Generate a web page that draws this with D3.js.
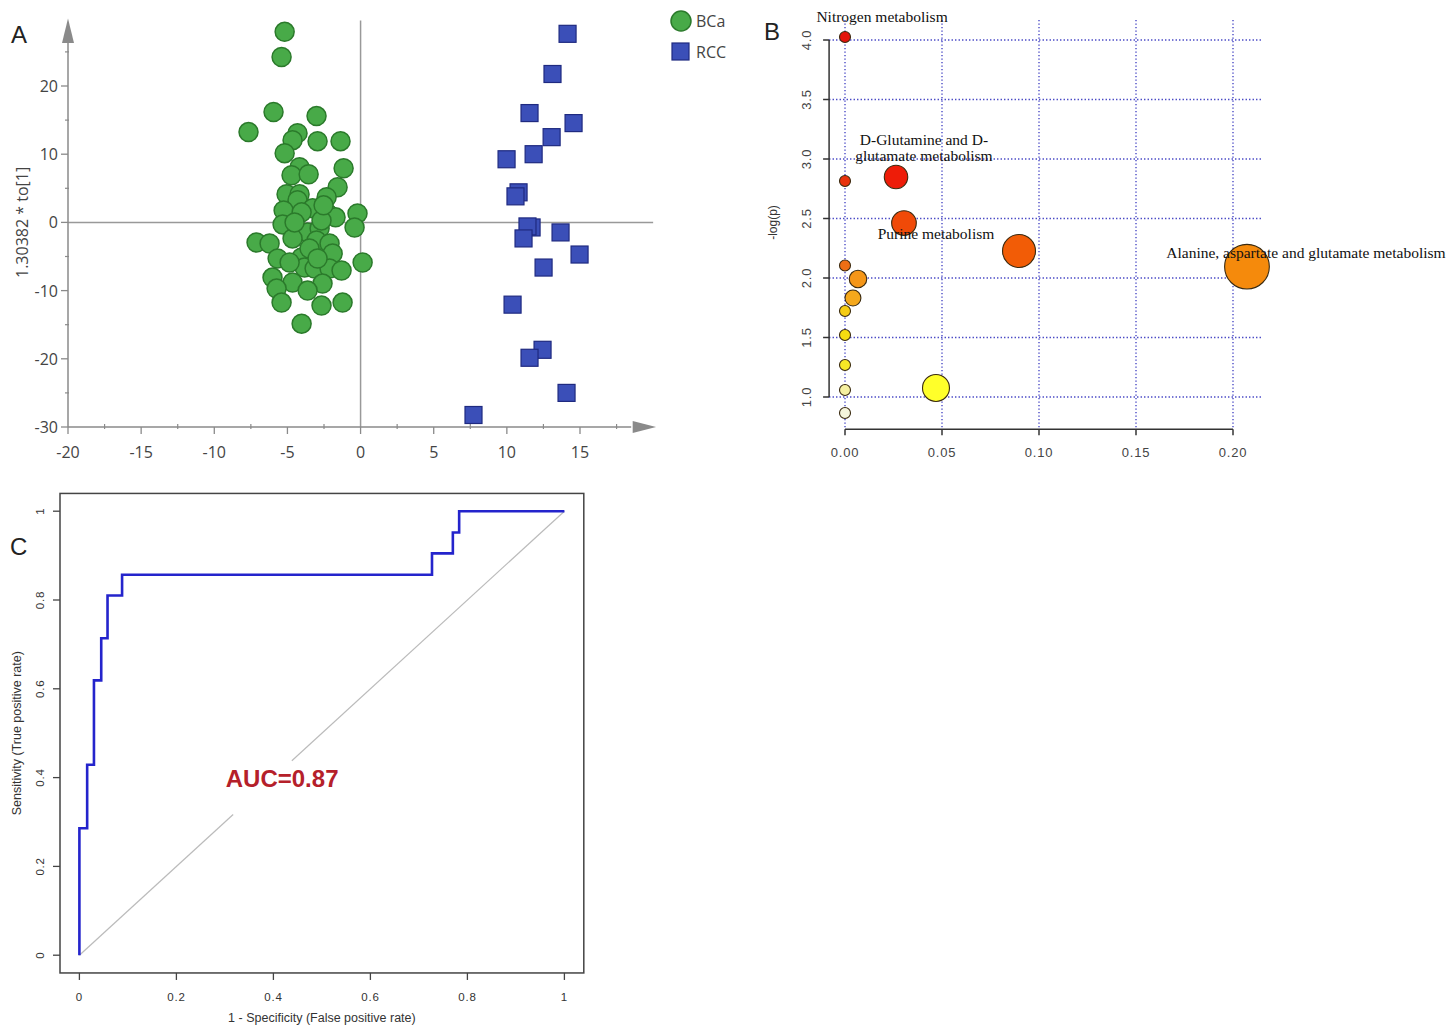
<!DOCTYPE html>
<html lang="en">
<head>
<meta charset="UTF-8">
<script src="https://d3js.org/d3.v7.min.js"></script>
<style>
  body { margin: 0; background: #fff; }
  svg { display: block; }
</style>
</head>
<body>
<div id="chart"></div>
<script>
// ---------- A: score plot ----------
const groups = ["BCa", "RCC"];
const bcaX = [-5.19,-5.40,-5.95,-7.66,-3.01,-4.31,-4.65,-2.94,-1.37,-5.19,-1.16,-4.17,-4.72,-3.55,-1.57,-5.06,-4.17,-2.32,-4.31,-5.26,-3.28,-2.26,-4.03,-1.71,-0.21,-0.41,-5.33,-3.62,-4.65,-7.11,-6.22,-2.80,-3.01,-2.12,-5.67,-4.03,-1.91,0.14,-3.83,-3.14,-2.12,-1.30,-6.02,-4.65,-2.60,-5.74,-3.62,-5.40,-2.67,-1.23,-4.03,-4.51,-2.67,-3.49,-4.85,-2.94,-2.53];
const bcaY = [27.94,24.26,16.18,13.24,15.59,13.09,12.06,11.91,11.91,10.15,7.94,8.09,6.91,7.06,5.15,4.12,4.12,3.68,3.24,1.76,2.06,1.32,1.47,0.74,1.32,-0.74,-0.29,-1.47,-2.35,-2.94,-3.09,-0.88,-2.65,-3.09,-5.29,-5.15,-4.56,-5.88,-6.62,-6.76,-6.76,-7.06,-8.09,-8.82,-8.97,-9.71,-10.0,-11.76,-12.2,-11.76,-14.85,0.0,0.29,-3.82,-5.88,-5.29,2.5];
const rccX = [14.15,13.12,11.55,14.56,13.06,11.83,9.98,10.80,10.59,11.69,11.41,13.67,11.14,14.97,12.51,10.39,12.44,11.55,14.08,7.72];
const rccY = [27.65,21.76,16.03,14.56,12.5,10.0,9.26,4.41,3.82,-0.74,-0.59,-1.47,-2.35,-4.71,-6.62,-12.06,-18.68,-19.85,-25.0,-28.24];
const aTicksX = [-20,-15,-10,-5,0,5,10,15];
const aMinorX = [-17.5,-12.5,-7.5,-2.5,2.5,7.5,12.5,17.5];
const aTicksY = [-30,-20,-10,0,10,20];
const aMinorY = [-25,-15,-5,5,15,25];

// ---------- B: pathway analysis ----------
const impact = [0, 0, 0.0263, 0.0304, 0.0897, 0.2072, 0, 0.0067, 0.0041, 0, 0, 0, 0, 0.0469, 0];
const logP   = [4.025, 2.815, 2.849, 2.462, 2.227, 2.095, 2.105, 1.992, 1.832, 1.723, 1.521, 1.269, 1.059, 1.076, 0.866];
const pathLabels = [["Nitrogen metabolism"], ["D-Glutamine and D-", "glutamate metabolism"], ["Purine metabolism"], ["Alanine, aspartate and glutamate metabolism"]];
const labelX = [0.0191, 0.0407, 0.0469, 0.2376];
const labelY = [4.151, 3.118, 2.328, 2.168];
const bTicksX = [0, 0.05, 0.10, 0.15, 0.20];
const bTicksY = [1.0, 1.5, 2.0, 2.5, 3.0, 3.5, 4.0];

// ---------- C: ROC ----------
const fpr = [0, 0.016, 0.030, 0.045, 0.058, 0.088, 0.727, 0.770, 0.783, 1.0];
const tpr = [0, 0.286, 0.429, 0.619, 0.714, 0.810, 0.857, 0.905, 0.952, 1.0];
const aucValue = 0.87;
const diagFrom = [0, 0.438];
const diagTo = [0.317, 1];
const cTicks = [0, 0.2, 0.4, 0.6, 0.8, 1];

const W = 1449, H = 1026;
const svg = d3.select("#chart").append("svg")
  .attr("width", W).attr("height", H)
  .style("background", "#fff");

const sans = "'Open Sans', 'Noto Sans', sans-serif";
const arial = "'Liberation Sans', Arial, sans-serif";
const serif = "'Liberation Serif', 'Times New Roman', serif";

// ================= Panel A =================
const xA = d3.scaleLinear().domain([-20, 15]).range([68, 580]);
const yA = d3.scaleLinear().domain([-30, 20]).range([427, 86]);
const gA = svg.append("g");
const axisCol = "#8a8a8a";

// zero lines
gA.append("line").attr("x1", xA(0)).attr("x2", xA(0)).attr("y1", yA(29.6)).attr("y2", yA(-30))
  .attr("stroke", "#999").attr("stroke-width", 1.5);
gA.append("line").attr("x1", xA(-20)).attr("x2", xA(20)).attr("y1", yA(0)).attr("y2", yA(0))
  .attr("stroke", "#999").attr("stroke-width", 1.5);

// axes with arrows
gA.append("line").attr("x1", xA(-20)).attr("x2", xA(-20)).attr("y1", yA(-30)).attr("y2", yA(26.5))
  .attr("stroke", axisCol).attr("stroke-width", 1.5);
gA.append("line").attr("x1", xA(-20)).attr("x2", xA(18.5)).attr("y1", yA(-30)).attr("y2", yA(-30))
  .attr("stroke", axisCol).attr("stroke-width", 1.5);
gA.append("path")
  .attr("d", `M${xA(-20)},${yA(29.9)} L${xA(-20) - 6},${yA(26.3)} L${xA(-20) + 6},${yA(26.3)} Z`)
  .attr("fill", axisCol);
gA.append("path")
  .attr("d", `M${xA(20.2)},${yA(-30)} L${xA(18.6)},${yA(-30) - 6} L${xA(18.6)},${yA(-30) + 6} Z`)
  .attr("fill", axisCol);

aTicksY.forEach(v => {
  gA.append("line").attr("x1", xA(-20) - 7).attr("x2", xA(-20)).attr("y1", yA(v)).attr("y2", yA(v))
    .attr("stroke", axisCol).attr("stroke-width", 1.3);
  gA.append("text").attr("x", xA(-20) - 10).attr("y", yA(v) + 6)
    .attr("text-anchor", "end").attr("font-family", sans).attr("font-size", 16).attr("fill", "#444")
    .text(v);
});
aMinorY.forEach(v => {
  gA.append("line").attr("x1", xA(-20) - 3).attr("x2", xA(-20) + 1).attr("y1", yA(v)).attr("y2", yA(v))
    .attr("stroke", axisCol).attr("stroke-width", 1.2);
});
aTicksX.forEach(v => {
  gA.append("line").attr("x1", xA(v)).attr("x2", xA(v)).attr("y1", yA(-30)).attr("y2", yA(-30) + 7)
    .attr("stroke", axisCol).attr("stroke-width", 1.3);
  gA.append("text").attr("x", xA(v)).attr("y", yA(-30) + 31)
    .attr("text-anchor", "middle").attr("font-family", sans).attr("font-size", 16).attr("fill", "#444")
    .text(v);
});
aMinorX.forEach(v => {
  gA.append("line").attr("x1", xA(v)).attr("x2", xA(v)).attr("y1", yA(-30) - 3).attr("y2", yA(-30) + 2)
    .attr("stroke", axisCol).attr("stroke-width", 1.2);
});

gA.append("text")
  .attr("transform", `translate(28,${yA(0)}) rotate(-90)`)
  .attr("text-anchor", "middle").attr("font-family", sans).attr("font-size", 16).attr("fill", "#444")
  .text("1.30382 * to[1]");

const bca = d3.zip(bcaX, bcaY);
const rcc = d3.zip(rccX, rccY);
const green = "#48aa48", greenStroke = "#2b7a2b";
const blue = "#3b4fb8", blueStroke = "#1f2a80";

gA.selectAll(".bca").data(bca).join("circle")
  .attr("cx", d => xA(d[0])).attr("cy", d => yA(d[1])).attr("r", 9.5)
  .attr("fill", green).attr("stroke", greenStroke).attr("stroke-width", 1.5);
gA.selectAll(".rcc").data(rcc).join("rect")
  .attr("x", d => xA(d[0]) - 8.5).attr("y", d => yA(d[1]) - 8.5)
  .attr("width", 17).attr("height", 17)
  .attr("fill", blue).attr("stroke", blueStroke).attr("stroke-width", 1.2);

// legend
const leg = svg.append("g");
leg.append("circle").attr("cx", 681).attr("cy", 21).attr("r", 10)
  .attr("fill", green).attr("stroke", greenStroke).attr("stroke-width", 1.5);
leg.append("rect").attr("x", 672).attr("y", 43).attr("width", 17).attr("height", 17)
  .attr("fill", blue).attr("stroke", blueStroke).attr("stroke-width", 1.2);
leg.selectAll("text").data(groups).join("text")
  .attr("x", 696).attr("y", (d, i) => 27 + i * 31)
  .attr("font-family", sans).attr("font-size", 16).attr("fill", "#444")
  .text(d => d);

svg.append("text").attr("x", 11).attr("y", 43).attr("font-family", arial).attr("font-size", 24)
  .attr("fill", "#222").text("A");

// ================= Panel B =================
const xB = d3.scaleLinear().domain([0, 0.2]).range([845, 1233]);
const yB = d3.scaleLinear().domain([1, 4]).range([397, 40]);
const rB = d3.scaleLinear().domain([0, 0.005, 0.03, 0.09, 0.21]).range([5.5, 8.5, 12.3, 16.5, 22.5]);
const heat = ["#e3140c", "#ee1c08", "#e8320e", "#f04a08", "#f25c06", "#ee6e14", "#f58a0c", "#f59618",
              "#f5a81c", "#f5cc14", "#f6dc10", "#f6e826", "#ffff2a", "#f5f0a0", "#f5f5dc"];
const gB = svg.append("g");
const bLeft = xB(-0.0082), bRight = xB(0.2155), bTop = yB(4.168), bBottom = yB(0.73);
const gridCol = "#3a3ac0";

bTicksY.forEach(v => {
  gB.append("line").attr("x1", bLeft).attr("x2", bRight).attr("y1", yB(v)).attr("y2", yB(v))
    .attr("stroke", gridCol).attr("stroke-width", 1.3).attr("stroke-dasharray", "1.3,2.2");
});
bTicksX.forEach(v => {
  gB.append("line").attr("x1", xB(v)).attr("x2", xB(v)).attr("y1", bTop).attr("y2", bBottom)
    .attr("stroke", gridCol).attr("stroke-width", 1.3).attr("stroke-dasharray", "1.3,2.2");
});

// axes
gB.append("line").attr("x1", bLeft).attr("x2", bLeft).attr("y1", yB(4)).attr("y2", yB(1))
  .attr("stroke", "#333").attr("stroke-width", 1.5);
gB.append("line").attr("x1", xB(0)).attr("x2", xB(0.2)).attr("y1", bBottom).attr("y2", bBottom)
  .attr("stroke", "#333").attr("stroke-width", 1.5);
bTicksY.forEach(v => {
  gB.append("line").attr("x1", bLeft - 6).attr("x2", bLeft).attr("y1", yB(v)).attr("y2", yB(v))
    .attr("stroke", "#333").attr("stroke-width", 1.5);
  gB.append("text").attr("transform", `translate(${bLeft - 18},${yB(v)}) rotate(-90)`)
    .attr("text-anchor", "middle").attr("font-family", arial).attr("font-size", 13).attr("fill", "#444")
    .attr("letter-spacing", 0.8).text(v.toFixed(1));
});
bTicksX.forEach(v => {
  gB.append("line").attr("x1", xB(v)).attr("x2", xB(v)).attr("y1", bBottom).attr("y2", bBottom + 6)
    .attr("stroke", "#333").attr("stroke-width", 1.5);
  gB.append("text").attr("x", xB(v)).attr("y", bBottom + 28)
    .attr("text-anchor", "middle").attr("font-family", arial).attr("font-size", 13).attr("fill", "#444")
    .attr("letter-spacing", 0.8).text(v.toFixed(2));
});
gB.append("text").attr("transform", `translate(777,${yB(2.5) + 4}) rotate(-90)`)
  .attr("text-anchor", "middle").attr("font-family", arial).attr("font-size", 12).attr("fill", "#333")
  .text("-log(p)");

// bubbles, coloured by rank of -log(p)
const rank = d3.range(logP.length).sort((a, b) => logP[b] - logP[a]);
const colourOf = [];
rank.forEach((idx, r) => { colourOf[idx] = heat[r]; });
gB.selectAll(".pw").data(d3.range(impact.length)).join("circle")
  .attr("cx", i => xB(impact[i])).attr("cy", i => yB(logP[i])).attr("r", i => rB(impact[i]))
  .attr("fill", i => colourOf[i]).attr("stroke", "#3a2a10").attr("stroke-width", 1.1);

pathLabels.forEach((lines, k) => {
  lines.forEach((t, j) => {
    gB.append("text").attr("x", xB(labelX[k])).attr("y", yB(labelY[k]) + j * 16)
      .attr("text-anchor", "middle").attr("font-family", serif).attr("font-size", 15.5).attr("fill", "#111")
      .text(t);
  });
});

svg.append("text").attr("x", 764).attr("y", 40).attr("font-family", arial).attr("font-size", 24)
  .attr("fill", "#222").text("B");

// ================= Panel C =================
const xC = d3.scaleLinear().domain([0, 1]).range([79.4, 564.4]);
const yC = d3.scaleLinear().domain([0, 1]).range([955.2, 511.2]);
const gC = svg.append("g");
gC.append("rect").attr("x", xC(-0.04)).attr("y", yC(1.04))
  .attr("width", xC(1.04) - xC(-0.04)).attr("height", yC(-0.04) - yC(1.04))
  .attr("fill", "none").attr("stroke", "#444").attr("stroke-width", 1.5);

cTicks.forEach(v => {
  gC.append("line").attr("x1", xC(v)).attr("x2", xC(v)).attr("y1", yC(-0.04)).attr("y2", yC(-0.04) + 7)
    .attr("stroke", "#444").attr("stroke-width", 1.3);
  gC.append("text").attr("x", xC(v)).attr("y", yC(-0.04) + 28)
    .attr("text-anchor", "middle").attr("font-family", arial).attr("font-size", 11.5).attr("fill", "#333")
    .attr("letter-spacing", 0.8).text(v);
  gC.append("line").attr("x1", xC(-0.04) - 7).attr("x2", xC(-0.04)).attr("y1", yC(v)).attr("y2", yC(v))
    .attr("stroke", "#444").attr("stroke-width", 1.3);
  gC.append("text").attr("transform", `translate(${xC(-0.04) - 16},${yC(v)}) rotate(-90)`)
    .attr("text-anchor", "middle").attr("font-family", arial).attr("font-size", 11.5).attr("fill", "#333")
    .attr("letter-spacing", 0.8).text(v);
});
gC.append("text").attr("x", (xC(-0.04) + xC(1.04)) / 2).attr("y", 1022)
  .attr("text-anchor", "middle").attr("font-family", arial).attr("font-size", 12.5).attr("fill", "#333")
  .text("1 - Specificity (False positive rate)");
gC.append("text").attr("transform", `translate(21,${(yC(-0.04) + yC(1.04)) / 2}) rotate(-90)`)
  .attr("text-anchor", "middle").attr("font-family", arial).attr("font-size", 12.5).attr("fill", "#333")
  .text("Sensitivity (True positive rate)");

// chance diagonal (broken around the AUC text)
diagFrom.forEach((a, i) => {
  gC.append("line").attr("x1", xC(a)).attr("y1", yC(a)).attr("x2", xC(diagTo[i])).attr("y2", yC(diagTo[i]))
    .attr("stroke", "#bbb").attr("stroke-width", 1.2);
});

const roc = d3.line().x(d => xC(d[0])).y(d => yC(d[1])).curve(d3.curveStepBefore);
gC.append("path").attr("d", roc(d3.zip(fpr, tpr)))
  .attr("fill", "none").attr("stroke", "#2424cc").attr("stroke-width", 2.6);

gC.append("text").attr("x", xC(0.418)).attr("y", yC(0.4) + 9)
  .attr("text-anchor", "middle").attr("font-family", arial).attr("font-weight", "bold")
  .attr("font-size", 24).attr("fill", "#b5202a")
  .text("AUC=" + aucValue.toFixed(2));

svg.append("text").attr("x", 10).attr("y", 555).attr("font-family", arial).attr("font-size", 24)
  .attr("fill", "#222").text("C");
</script>
</body>
</html>
